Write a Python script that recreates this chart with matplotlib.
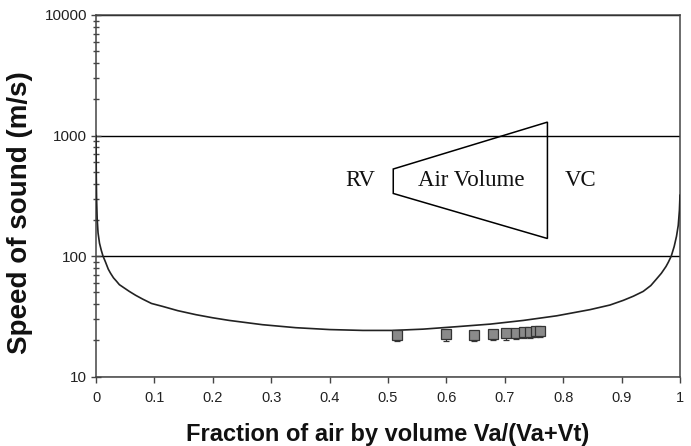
import matplotlib
matplotlib.use("Agg")
import matplotlib.pyplot as plt
from matplotlib.ticker import LogLocator, FixedLocator, NullFormatter
from matplotlib.patches import Polygon

# ---- data ----
curve_x = [0.0, 0.0005, 0.001, 0.002, 0.0035, 0.006, 0.009, 0.012, 0.016, 0.021,
           0.025, 0.03, 0.035, 0.04, 0.047, 0.057, 0.068, 0.08, 0.095, 0.114,
           0.14, 0.171, 0.2, 0.228, 0.285, 0.342, 0.40,
           0.457, 0.508, 0.56, 0.618, 0.675, 0.732, 0.789, 0.846, 0.88, 0.903,
           0.92, 0.937, 0.95, 0.959, 0.968, 0.976, 0.98, 0.985, 0.990, 0.994,
           0.997, 0.999, 1.0]
curve_y = [1000, 450, 300, 205, 156, 128, 112, 100, 90, 78,
           72, 66, 62, 58, 55, 51, 47.3, 44, 40.5, 38.3,
           35.3, 32.7, 30.8, 29.3, 27.0, 25.5, 24.6,
           24.2, 24.2, 24.8, 26.0, 27.3, 29.3, 32.0, 36.0, 39.3, 43.0,
           46.5, 51, 57, 64, 72, 82, 89, 100, 120, 146,
           180, 240, 320]

meas_x = [0.515, 0.599, 0.648, 0.680, 0.702, 0.720, 0.733, 0.744, 0.753, 0.760]
meas_y = [22.3, 22.4, 22.3, 22.7, 22.9, 23.1, 23.4, 23.6, 23.8, 24.0]
meas_err_low = [2.6, 2.6, 2.6, 2.6, 2.6, 2.6, 2.6, 2.6, 2.6, 2.6]

trap_x = [0.509, 0.773, 0.773, 0.509]
trap_y = [528, 1293, 140, 331]

labels_text = ["RV", "Air Volume", "VC"]
labels_x = [0.452, 0.643, 0.829]
labels_y = [422, 422, 422]

x_ticks = [0, 0.1, 0.2, 0.3, 0.4, 0.5, 0.6, 0.7, 0.8, 0.9, 1]
x_ticklabels = ["0", "0.1", "0.2", "0.3", "0.4", "0.5", "0.6", "0.7", "0.8", "0.9", "1"]
y_ticks = [10, 100, 1000, 10000]
y_ticklabels = ["10", "100", "1000", "10000"]

# ---- figure ----
fig = plt.figure(figsize=(6.91, 4.46), dpi=100)
ax = fig.add_axes([96 / 691, (446 - 376.7) / 446, 584 / 691, (376.7 - 15) / 446])

ax.set_yscale("log")
ax.set_xlim(0, 1)
ax.set_ylim(10, 10000)

ax.plot(curve_x, curve_y, color="#222222", lw=1.2, zorder=3)

ax.errorbar(meas_x, meas_y, yerr=[meas_err_low, [0] * len(meas_y)], fmt="s",
            ms=6.5, mfc="#8a8a8a", mec="#333333", mew=0.9,
            ecolor="#333333", elinewidth=0.9, capsize=2.5, zorder=4)

poly = Polygon(list(zip(trap_x, trap_y)), closed=True, fill=False,
               edgecolor="black", lw=1.1, zorder=3)
ax.add_patch(poly)
for t, tx, ty in zip(labels_text, labels_x, labels_y):
    ax.text(tx, ty, t, ha="center", va="center", fontsize=16.5,
            family="Liberation Serif", color="#111111", zorder=5)

# horizontal reference lines at decades
ax.yaxis.grid(True, which="major", color="black", lw=1.0)
ax.set_axisbelow(True)

ax.xaxis.set_major_locator(FixedLocator(x_ticks))
ax.set_xticklabels(x_ticklabels)
ax.yaxis.set_major_locator(FixedLocator(y_ticks))
ax.set_yticklabels(y_ticklabels)
ax.yaxis.set_minor_locator(LogLocator(base=10, subs=[2, 3, 4, 5, 6, 7, 8, 9]))
ax.yaxis.set_minor_formatter(NullFormatter())

ax.tick_params(axis="x", which="major", direction="out", length=4, width=1,
               color="#444444", labelsize=10.5, pad=6, labelcolor="#222222")
ax.tick_params(axis="y", which="major", direction="inout", length=7, width=1,
               color="#444444", labelsize=11, pad=3, labelcolor="#222222")
ax.tick_params(axis="y", which="minor", direction="inout", length=4, width=1,
               color="#444444")
for lab in ax.get_xticklabels() + ax.get_yticklabels():
    lab.set_family("Liberation Sans")

for s in ax.spines.values():
    s.set_color("#444444")
    s.set_linewidth(1.1)

ax.set_ylabel("Speed of sound (m/s)", fontsize=20, fontweight="bold",
              family="Liberation Sans", color="#111111")
ax.yaxis.set_label_coords(-0.108, 0.455)
ax.set_xlabel("Fraction of air by volume Va/(Va+Vt)", fontsize=17, fontweight="bold",
              family="Liberation Sans", color="#111111")
ax.xaxis.set_label_coords(0.5, -0.128)

fig.savefig("out.png", dpi=100)
